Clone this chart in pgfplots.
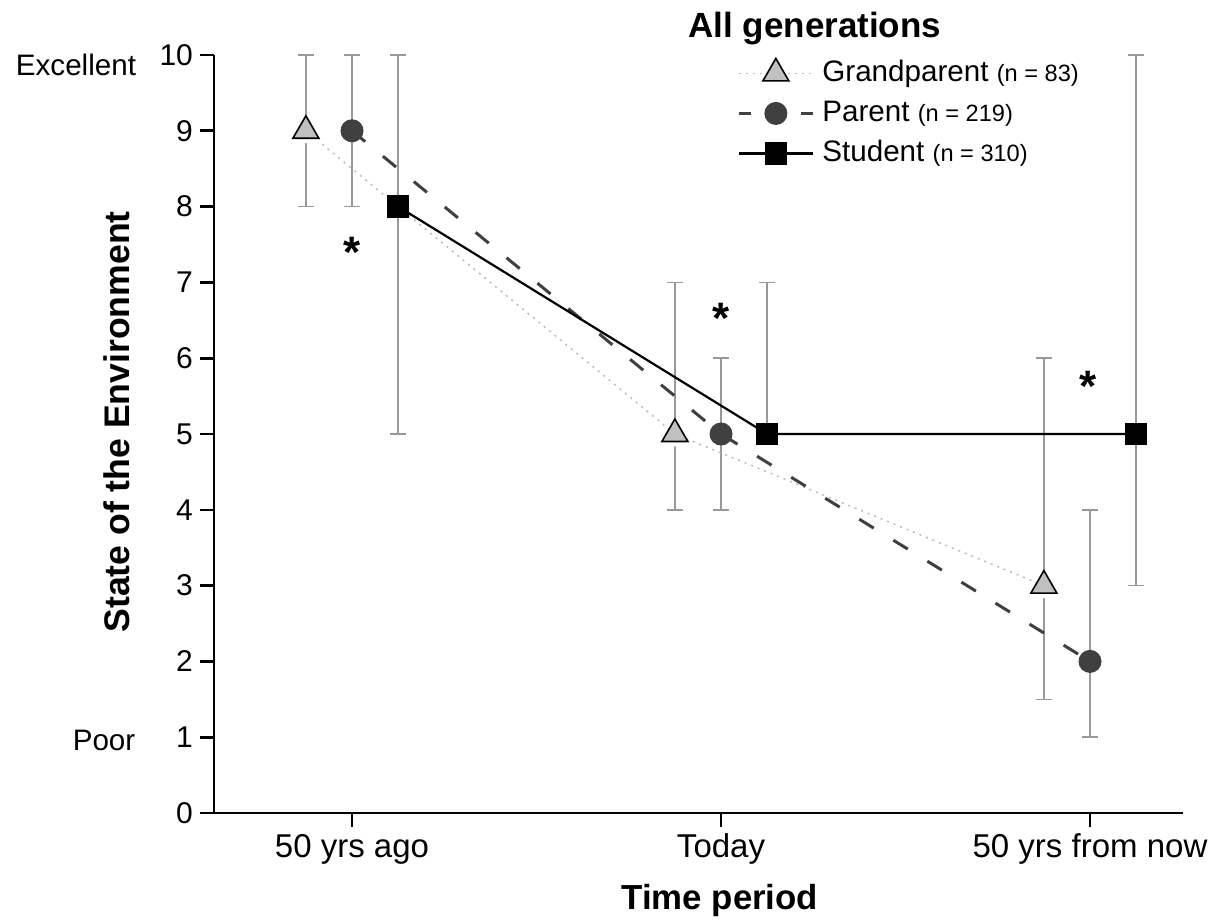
\documentclass[border=0pt]{standalone}
\usepackage{pgfplots}
\pgfplotsset{compat=1.18}
\usepackage{fontspec}
\setmainfont{Liberation Sans}

\definecolor{errgray}{HTML}{999999}
\definecolor{pardark}{HTML}{404040}
\definecolor{gpfill}{HTML}{C0C0C0}
\definecolor{gpline}{HTML}{B8B8B8}

\begin{document}
\begin{tikzpicture}
\useasboundingbox (0,0) rectangle (615pt,461pt);
\begin{axis}[
  at={(107pt,54.5pt)}, anchor=south west,
  scale only axis, width=484.5pt, height=379pt,
  xmin=-0.374, xmax=2.252, ymin=0, ymax=10,
  clip=false,
  axis x line*=bottom, axis y line*=left,
  axis line style={line width=1.3pt, -},
  tick style={line width=1.3pt, black},
  tick align=outside, major tick length=7pt,
  xtick={0,1,2}, xticklabels={50 yrs ago, Today, 50 yrs from now},
  ytick={0,1,...,10},
  /pgf/number format/assume math mode=true,
  xticklabel style={font=\fontsize{16.5}{18}\selectfont},
  yticklabel style={font=\fontsize{15}{17}\selectfont},
  xlabel={\bfseries Time period},
  xlabel style={at={(axis description cs:0.522,-0.115)}, anchor=center, font=\fontsize{17.4}{20}\selectfont},
  ylabel={\bfseries State of the Environment},
  ylabel style={at={(axis description cs:-0.100,0.516)}, anchor=center, font=\fontsize{17.8}{20}\selectfont},
  legend style={at={(axis description cs:0.5397,0.996)}, anchor=north west, draw=none, fill=none,
    inner sep=0pt, column sep=4pt, row sep=6pt,
    nodes={inner sep=0pt, text height=11pt, text depth=3pt, font=\fontsize{14.8}{17}\selectfont}},
  legend cell align=left,
  legend image code/.code={\draw[mark repeat=2, mark phase=2] plot coordinates {(0pt,0pt) (18.5pt,0pt) (37pt,0pt)};},
]
% error bars
\addplot[forget plot, draw=none, mark=none,
  error bars/.cd, y dir=both, y explicit,
  error bar style={draw=errgray, line width=0.75pt, solid},
  error mark options={draw=errgray, mark size=4pt, line width=0.75pt, rotate=90}]
  coordinates {(-0.125,9) += (0,1) -= (0,1)
               (0.875,5) += (0,2) -= (0,1)
               (1.875,3) += (0,3) -= (0,1.5)};
\addplot[forget plot, draw=none, mark=none,
  error bars/.cd, y dir=both, y explicit,
  error bar style={draw=errgray, line width=0.75pt, solid},
  error mark options={draw=errgray, mark size=4pt, line width=0.75pt, rotate=90}]
  coordinates {(0,9) += (0,1) -= (0,1)
               (1,5) += (0,1) -= (0,1)
               (2,2) += (0,2) -= (0,1)};
\addplot[forget plot, draw=none, mark=none,
  error bars/.cd, y dir=both, y explicit,
  error bar style={draw=errgray, line width=0.75pt, solid},
  error mark options={draw=errgray, mark size=4pt, line width=0.75pt, rotate=90}]
  coordinates {(0.125,8) += (0,2) -= (0,3)
               (1.125,5) += (0,2) -= (0,0)
               (2.125,5) += (0,5) -= (0,2)};
% halo around triangles
\addplot[forget plot, only marks, mark=triangle*, mark size=9pt,
  mark options={fill=white, draw=white, yshift=-1.5pt}]
  coordinates {(-0.125,9) (0.875,5) (1.875,3)};
% series
\addplot[gpline, line width=0.7pt, dash pattern=on 1pt off 2.5pt,
  mark=triangle*, mark size=7.5pt,
  mark options={solid, fill=gpfill, draw=black, line width=0.8pt}]
  coordinates {(-0.125,9) (0.875,5) (1.875,3)};
\addlegendentry{Grandparent {\fontsize{11.8}{14}\selectfont(n = 83)}}
\addplot[pardark, line width=1.5pt, dash pattern=on 8.5pt off 11.5pt,
  mark=*, mark size=5.5pt,
  mark options={solid, fill=pardark, draw=pardark, line width=0.5pt},
  legend image code/.code={%
    \draw[solid] (0pt,0pt) -- (6pt,0pt);
    \draw[solid] (31pt,0pt) -- (37pt,0pt);
    \draw[draw=none] plot coordinates {(18.5pt,0pt)};}]
  coordinates {(0,9) (1,5) (2,2)};
\addlegendentry{Parent {\fontsize{11.8}{14}\selectfont(n = 219)}}
\addplot[black, line width=1.1pt,
  mark=square*, mark size=5pt,
  mark options={solid, fill=black}]
  coordinates {(0.125,8) (1.125,5) (2.125,5)};
\addlegendentry{Student {\fontsize{11.8}{14}\selectfont(n = 310)}}
% annotations
\node[font=\fontsize{22}{24}\selectfont\bfseries] at (axis cs:0,7.39) {*};
\node[font=\fontsize{22}{24}\selectfont\bfseries] at (axis cs:1,6.52) {*};
\node[font=\fontsize{22}{24}\selectfont\bfseries] at (axis cs:1.995,5.63) {*};
\node[font=\fontsize{14.8}{17}\selectfont] at (axis cs:-0.748,9.87) {Excellent};
\node[font=\fontsize{14.8}{17}\selectfont] at (axis cs:-0.672,0.96) {Poor};
\node[font=\fontsize{17.5}{20}\selectfont\bfseries, anchor=base] at (axis description cs:0.620,1.0237) {All generations};
\end{axis}
\end{tikzpicture}
\end{document}
